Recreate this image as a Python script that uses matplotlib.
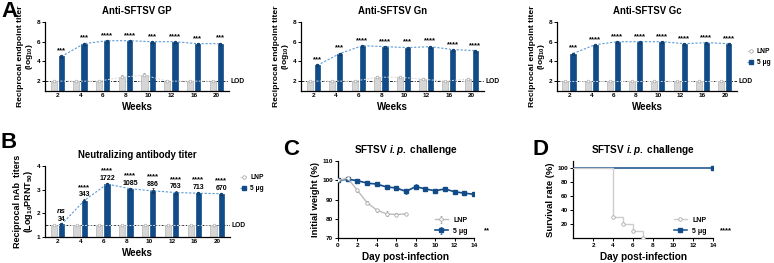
import matplotlib
matplotlib.use("Agg")
import matplotlib.pyplot as plt
import numpy as np
from matplotlib.lines import Line2D

plt.rcParams["font.family"] = ["Liberation Sans", "DejaVu Sans"]
plt.rcParams["font.weight"] = "bold"
plt.rcParams["axes.titleweight"] = "bold"
plt.rcParams["axes.labelweight"] = "bold"
plt.rcParams["mathtext.fontset"] = "custom"
plt.rcParams["mathtext.rm"] = "Liberation Sans:bold"
plt.rcParams["mathtext.it"] = "Liberation Sans:italic:bold"
plt.rcParams["mathtext.default"] = "rm"

W, H = 774, 263
BLUE = "#124c88"
LBLUE = "#5a9ad6"
GREY = "#b4b4b4"
LGREY = "#d6d6d6"

weeks = ["2", "4", "6", "8", "10", "12", "16", "20"]

# A: endpoint titers (log10)
gp_vax = [4.5, 5.8, 6.1, 6.1, 6.0, 6.0, 5.8, 5.8]
gp_vax_err = [0.08, 0.08, 0.05, 0.05, 0.05, 0.05, 0.06, 0.08]
gp_lnp = [2.0, 2.0, 2.0, 2.4, 2.6, 2.0, 2.0, 2.0]
gp_lnp_err = [0, 0, 0, 0.2, 0.2, 0, 0, 0]
gp_stars = ["***", "***", "****", "****", "***", "****", "***", "***"]

gn_vax = [3.6, 4.8, 5.6, 5.5, 5.4, 5.5, 5.2, 5.1]
gn_vax_err = [0.1, 0.1, 0.06, 0.06, 0.1, 0.1, 0.06, 0.05]
gn_lnp = [2.0, 2.0, 2.0, 2.4, 2.4, 2.2, 2.0, 2.2]
gn_lnp_err = [0, 0, 0, 0.15, 0.15, 0.12, 0, 0.1]
gn_stars = ["***", "***", "****", "****", "***", "****", "****", "****"]

gc_vax = [4.8, 5.7, 6.0, 6.0, 6.0, 5.8, 5.9, 5.8]
gc_vax_err = [0.08, 0.06, 0.04, 0.04, 0.04, 0.05, 0.04, 0.05]
gc_lnp = [2.0, 2.0, 2.0, 2.0, 2.0, 2.0, 2.0, 2.0]
gc_lnp_err = [0, 0, 0, 0, 0, 0, 0, 0]
gc_stars = ["***", "****", "****", "****", "****", "****", "****", "****"]

# B: neutralizing titers (log10 PRNT50)
nab_vax = [1.53, 2.54, 3.24, 3.04, 2.95, 2.88, 2.85, 2.83]
nab_vax_err = [0.04, 0.05, 0.05, 0.05, 0.1, 0.05, 0.05, 0.04]
nab_lnp = [1.5] * 8
nab_lnp_err = [0] * 8
nab_labels = ["34", "343", "1722", "1085", "886", "763", "713", "670"]
nab_stars = ["ns", "****", "****", "****", "****", "****", "****", "****"]

# C: body weight
days_vax = list(range(15))
weight_vax = [100, 100.5, 99.8, 98.5, 98.0, 96.5, 96.0, 94.2, 96.7, 95.5,
              94.5, 95.5, 94.0, 93.3, 92.7]
weight_vax_err = [0.3, 0.4, 0.6, 0.7, 0.8, 1.0, 1.2, 1.2, 1.2, 0.9,
                  0.9, 0.9, 0.8, 0.8, 0.9]
days_lnp = list(range(8))
weight_lnp = [100, 101, 94.7, 88.3, 84.5, 82.5, 82.2, 82.5]
weight_lnp_err = [0.3, 0.5, 0.6, 0.8, 0.8, 1.3, 0.7, 0.4]

# D: survival
surv_days_lnp = [0, 4, 5, 6, 7]
surv_lnp = [100, 30, 20, 10, 0]
surv_days_vax = [0, 14]
surv_vax = [100, 100]


def add_ax(x0, x1, y0, y1):
    return fig.add_axes([x0 / W, 1 - y1 / H, (x1 - x0) / W, (y1 - y0) / H])


def style(ax):
    for s in ("top", "right"):
        ax.spines[s].set_visible(False)
    for s in ("left", "bottom"):
        ax.spines[s].set_linewidth(0.9)
    ax.tick_params(labelsize=4.6, length=2, width=0.7, pad=1.5)


def bar_panel(ax, lnp, lnp_err, vax, vax_err, stars, ylim, yticks, lod,
              ylabel, title, star_off, ylabel_size, labels=None):
    x = np.arange(len(weeks))
    xl, xv = x - 0.17, x + 0.17
    ax.bar(xl, lnp, width=0.27, color=LGREY, edgecolor=GREY, lw=0.5, zorder=2)
    ax.bar(xv, vax, width=0.23, color=BLUE, edgecolor=BLUE, lw=0.5, zorder=2)
    ax.errorbar(xl, lnp, yerr=[np.zeros(len(lnp)), lnp_err], fmt="none",
                ecolor="#888888", elinewidth=0.5, capsize=1, capthick=0.5, zorder=3)
    ax.errorbar(xv, vax, yerr=vax_err, fmt="none", ecolor="#222222",
                elinewidth=0.5, capsize=1, capthick=0.5, zorder=3)
    ax.plot(xl, lnp, ls=(0, (2, 1.5)), color=LGREY, lw=0.7, marker="o", ms=2,
            mfc="white", mec="#999999", mew=0.4, zorder=4)
    ax.plot(xv, vax, ls=(0, (2, 1.5)), color=LBLUE, lw=0.8, marker="o", ms=2,
            mfc=BLUE, mec="#0a2f5a", mew=0.4, zorder=4)
    ax.axhline(lod, color="#222222", lw=0.7, ls=(0, (3, 1.5, 1, 1.5)), zorder=1)
    ax.text(1.01, lod, "LOD", transform=ax.get_yaxis_transform(), fontsize=4.8,
            va="center", ha="left")
    for i in range(len(weeks)):
        top = vax[i] + vax_err[i]
        if labels is not None:
            ax.text(xv[i], top + 0.04, labels[i], fontsize=5, ha="center",
                    va="bottom")
            sy = top + star_off
        else:
            sy = top + 0.12
        st = stars[i]
        ax.text(xv[i], sy, st, fontsize=5.5, ha="center", va="bottom",
                style="italic" if st == "ns" else "normal")
    ax.set_xlim(-0.55, len(weeks) - 0.45)
    ax.set_ylim(*ylim)
    ax.set_yticks(yticks)
    ax.set_xticks(x)
    ax.set_xticklabels(weeks)
    style(ax)
    ax.tick_params(axis="x", length=0)
    ax.set_ylabel(ylabel, fontsize=ylabel_size, labelpad=1, linespacing=1.05)
    ax.set_xlabel("Weeks", fontsize=7, labelpad=3)
    ax.set_title(title, fontsize=6.9, pad=6)


fig = plt.figure(figsize=(W / 100, H / 100), dpi=100)

ylab_a = "Reciprocal endpoint titer\n(log$_{10}$)"
ax1 = add_ax(45, 229, 22, 91)
bar_panel(ax1, gp_lnp, gp_lnp_err, gp_vax, gp_vax_err, gp_stars, (1, 8),
          [2, 4, 6, 8], 2.0, ylab_a, "Anti-SFTSV GP", 0.12, 6.1)
ax2 = add_ax(301, 484, 22, 91)
bar_panel(ax2, gn_lnp, gn_lnp_err, gn_vax, gn_vax_err, gn_stars, (1, 8),
          [2, 4, 6, 8], 2.0, ylab_a, "Anti-SFTSV Gn", 0.12, 6.1)
ax3 = add_ax(557, 737, 22, 91)
bar_panel(ax3, gc_lnp, gc_lnp_err, gc_vax, gc_vax_err, gc_stars, (1, 8),
          [2, 4, 6, 8], 2.0, ylab_a, "Anti-SFTSV Gc", 0.12, 6.1)

ax4 = add_ax(45, 230, 166, 237)
bar_panel(ax4, nab_lnp, nab_lnp_err, nab_vax, nab_vax_err, nab_stars, (1, 4),
          [1, 2, 3, 4], 1.5,
          "Reciprocal nAb  titers\n(Log$_{10}$PRNT$_{50}$)",
          "Neutralizing antibody titer", 0.36, 6.5, labels=nab_labels)

handles = [
    Line2D([], [], color=LGREY, ls=(0, (2, 1.5)), lw=0.8, marker="o", ms=2.5,
           mfc="white", mec="#999999", mew=0.5),
    Line2D([], [], color=LBLUE, ls=(0, (2, 1.5)), lw=0.8, marker="s", ms=2.5,
           mfc=BLUE, mec=BLUE),
]
for ax, y in ((ax3, 0.66), (ax4, 0.92)):
    ax.legend(handles, ["LNP", "5 μg"], loc="upper left",
              bbox_to_anchor=(1.04, y), frameon=False, fontsize=4.8,
              handlelength=1.1, handletextpad=0.4, labelspacing=0.6,
              borderaxespad=0)

# C: weight
ax5 = add_ax(338, 474, 161, 238)
ax5.errorbar(days_vax, weight_vax, yerr=weight_vax_err, color=BLUE, lw=1.2,
             marker="s", ms=2.5, elinewidth=0.5, capsize=1, capthick=0.5,
             label="5 μg", zorder=3)
ax5.errorbar(days_lnp, weight_lnp, yerr=weight_lnp_err, color="#bcbcbc", lw=1.0,
             marker="o", ms=2.5, mfc="white", mec="#999999", mew=0.5,
             elinewidth=0.5, ecolor="#999999", capsize=1, capthick=0.5,
             label="LNP", zorder=4)
ax5.set_xlim(0, 14)
ax5.set_ylim(70, 110)
ax5.set_xticks(range(0, 15, 2))
ax5.set_yticks(range(70, 111, 10))
style(ax5)
ax5.set_ylabel("Initial weight (%)", fontsize=6.8, labelpad=2)
ax5.set_xlabel("Day post-infection", fontsize=7.2, labelpad=3)
ax5.set_title("SFTSV $\\it{i.p.}$ challenge", fontsize=7.2, pad=6)
h, l = ax5.get_legend_handles_labels()
ax5.legend(h[::-1], l[::-1], loc="lower right", bbox_to_anchor=(1.0, -0.04),
           frameon=False, fontsize=5, handlelength=1.8, labelspacing=0.6)
ax5.text(1.07, 0.09, "**", transform=ax5.transAxes, fontsize=5.5, va="center")

# D: survival
ax6 = add_ax(573, 713, 161, 238)
ax6.step(surv_days_vax, surv_vax, where="post", color=BLUE, lw=1.1, zorder=2)
ax6.plot(surv_days_vax[-1:], surv_vax[-1:], ls="none", marker="s", ms=2.5,
         color=BLUE, zorder=3)
ax6.step(surv_days_lnp, surv_lnp, where="post", color="#cccccc", lw=1.0, zorder=4)
ax6.plot(surv_days_lnp[1:], surv_lnp[1:], ls="none", marker="o", ms=2.5,
         mfc="white", mec="#999999", mew=0.5, zorder=5)
ax6.set_xlim(0, 14)
ax6.set_ylim(0, 110)
ax6.set_xticks(range(2, 15, 2))
ax6.set_yticks(range(20, 101, 20))
style(ax6)
ax6.set_ylabel("Survival rate (%)", fontsize=6.8, labelpad=2)
ax6.set_xlabel("Day post-infection", fontsize=7.2, labelpad=3)
ax6.set_title("SFTSV $\\it{i.p.}$ challenge", fontsize=7.2, pad=6)
dh = [
    Line2D([], [], color="#cccccc", lw=1.0, marker="o", ms=2.5, mfc="white",
           mec="#999999", mew=0.5),
    Line2D([], [], color=BLUE, lw=1.1, marker="s", ms=2.5),
]
ax6.legend(dh, ["LNP", "5 μg"], loc="lower right", bbox_to_anchor=(1.0, -0.04),
           frameon=False, fontsize=5, handlelength=1.8, labelspacing=0.6)
ax6.text(1.05, 0.09, "****", transform=ax6.transAxes, fontsize=5.5, va="center")

# panel letters
for s, x, y in (("A", 1, 1), ("B", 1, 132), ("C", 283, 139), ("D", 532, 139)):
    fig.text(x / W, 1 - y / H, s, fontsize=16, weight="bold", va="top",
             ha="left")

fig.savefig("out.png", dpi=100)
